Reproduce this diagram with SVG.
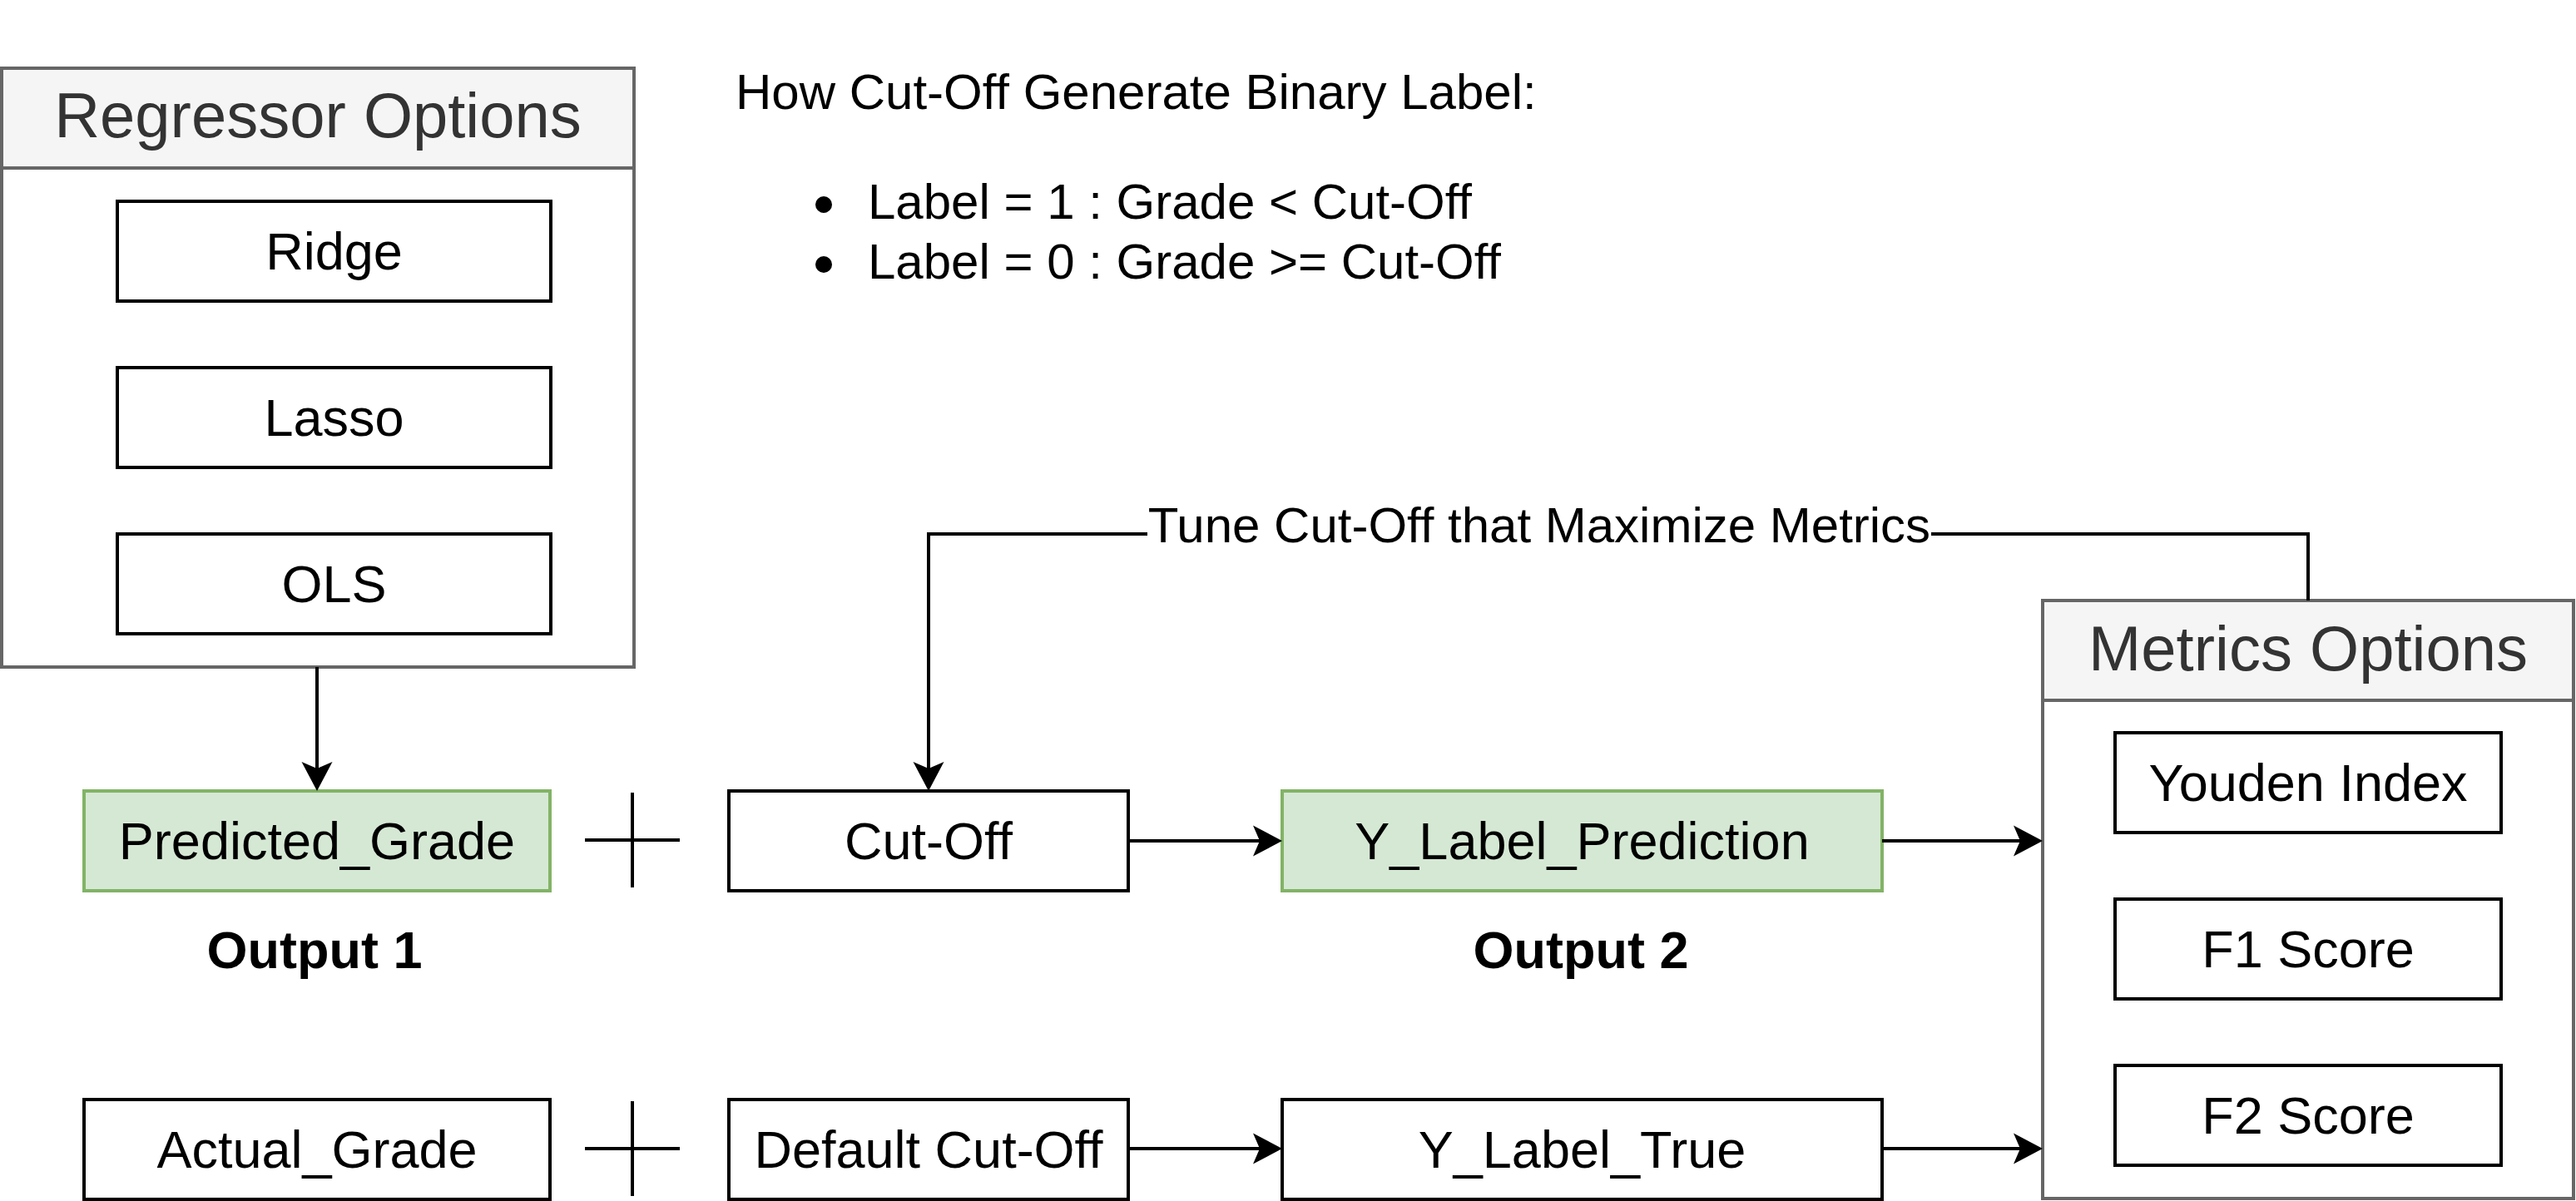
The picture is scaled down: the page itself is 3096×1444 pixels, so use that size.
<svg xmlns="http://www.w3.org/2000/svg" width="3096" height="1444" viewBox="0 0 3096 1444">
<defs>
<style>
.t{font-family:"Liberation Sans",Arial,sans-serif;fill:#000;}
.n{font-size:63px;text-anchor:middle;}
.h{font-size:76px;text-anchor:middle;fill:#333333;}
.l{font-size:60px;}
.b{font-size:63px;font-weight:bold;text-anchor:middle;}
.box{fill:#fff;stroke:#000;stroke-width:4;}
.green{fill:#d5e8d4;stroke:#82b366;stroke-width:4;}
.cont{fill:#fff;stroke:#666666;stroke-width:4;}
.head{fill:#f5f5f5;stroke:#666666;stroke-width:4;}
.c{fill:none;stroke:#000;stroke-width:4;}
</style>
<marker id="arr" markerUnits="userSpaceOnUse" markerWidth="40" markerHeight="40" viewBox="0 0 36 40" refX="10" refY="20" orient="auto">
<path d="M36,20 L1,1.5 L9,20 L1,38.5 Z" fill="#000"/>
</marker>
</defs>
<rect width="3096" height="1444" fill="#fff"/>

<g id="regressor-options">
<rect class="cont" x="2" y="82" width="760" height="720"/>
<rect class="head" x="2" y="82" width="760" height="120"/>
<text class="t h" x="382" y="165">Regressor Options</text>
</g>
<g id="ridge"><rect class="box" x="141" y="242" width="521" height="120"/><text class="t n" x="401.5" y="324">Ridge</text></g>
<g id="lasso"><rect class="box" x="141" y="442" width="521" height="120"/><text class="t n" x="401.5" y="524">Lasso</text></g>
<g id="ols"><rect class="box" x="141" y="642" width="521" height="120"/><text class="t n" x="401.5" y="724">OLS</text></g>

<g id="binary-label-note">
<text class="t l" x="884" y="131">How Cut-Off Generate Binary Label:</text>
<circle cx="990" cy="246" r="10" fill="#000"/>
<text class="t l" x="1043" y="263">Label = 1 : Grade &lt; Cut-Off</text>
<circle cx="990" cy="318" r="10" fill="#000"/>
<text class="t l" x="1043" y="335">Label = 0 : Grade &gt;= Cut-Off</text>
</g>

<g id="predicted-grade"><rect class="green" x="101" y="951" width="560" height="120"/><text class="t n" x="381" y="1033">Predicted_Grade</text></g>
<g id="plus-1"><path class="c" d="M703,1010 H817 M760,953 V1067"/></g>
<g id="cut-off"><rect class="box" x="876" y="951" width="480" height="120"/><text class="t n" x="1116" y="1033">Cut-Off</text></g>
<g id="y-label-prediction"><rect class="green" x="1541" y="951" width="721" height="120"/><text class="t n" x="1901.5" y="1033">Y_Label_Prediction</text></g>
<g id="output-1"><text class="t b" x="378" y="1164">Output 1</text></g>
<g id="output-2"><text class="t b" x="1900" y="1164">Output 2</text></g>

<g id="actual-grade"><rect class="box" x="101" y="1322" width="560" height="120"/><text class="t n" x="381" y="1404">Actual_Grade</text></g>
<g id="plus-2"><path class="c" d="M703,1381 H817 M760,1324 V1438"/></g>
<g id="default-cut-off"><rect class="box" x="876" y="1322" width="480" height="120"/><text class="t n" x="1116" y="1404">Default Cut-Off</text></g>
<g id="y-label-true"><rect class="box" x="1541" y="1322" width="721" height="120"/><text class="t n" x="1901.5" y="1404">Y_Label_True</text></g>

<g id="metrics-options">
<rect class="cont" x="2455" y="722" width="638" height="719"/>
<rect class="head" x="2455" y="722" width="638" height="120"/>
<text class="t h" x="2774" y="806">Metrics Options</text>
</g>
<g id="youden-index"><rect class="box" x="2542" y="881" width="464" height="120"/><text class="t n" x="2774" y="963">Youden Index</text></g>
<g id="f1-score"><rect class="box" x="2542" y="1081" width="464" height="120"/><text class="t n" x="2774" y="1163">F1 Score</text></g>
<g id="f2-score"><rect class="box" x="2542" y="1281" width="464" height="120"/><text class="t n" x="2774" y="1363">F2 Score</text></g>

<g id="connectors">
<path class="c" d="M381,802 V925" marker-end="url(#arr)"/>
<path class="c" d="M1356,1011 H1515" marker-end="url(#arr)"/>
<path class="c" d="M2262,1011 H2429" marker-end="url(#arr)"/>
<path class="c" d="M1356,1381 H1515" marker-end="url(#arr)"/>
<path class="c" d="M2262,1381 H2429" marker-end="url(#arr)"/>
<path class="c" d="M2774,722 V642 H1116 V925" marker-end="url(#arr)"/>
<rect x="1379" y="600" width="942" height="70" fill="#fff"/>
<text class="t l" x="1850" y="652" text-anchor="middle">Tune Cut-Off that Maximize Metrics</text>
</g>
</svg>
